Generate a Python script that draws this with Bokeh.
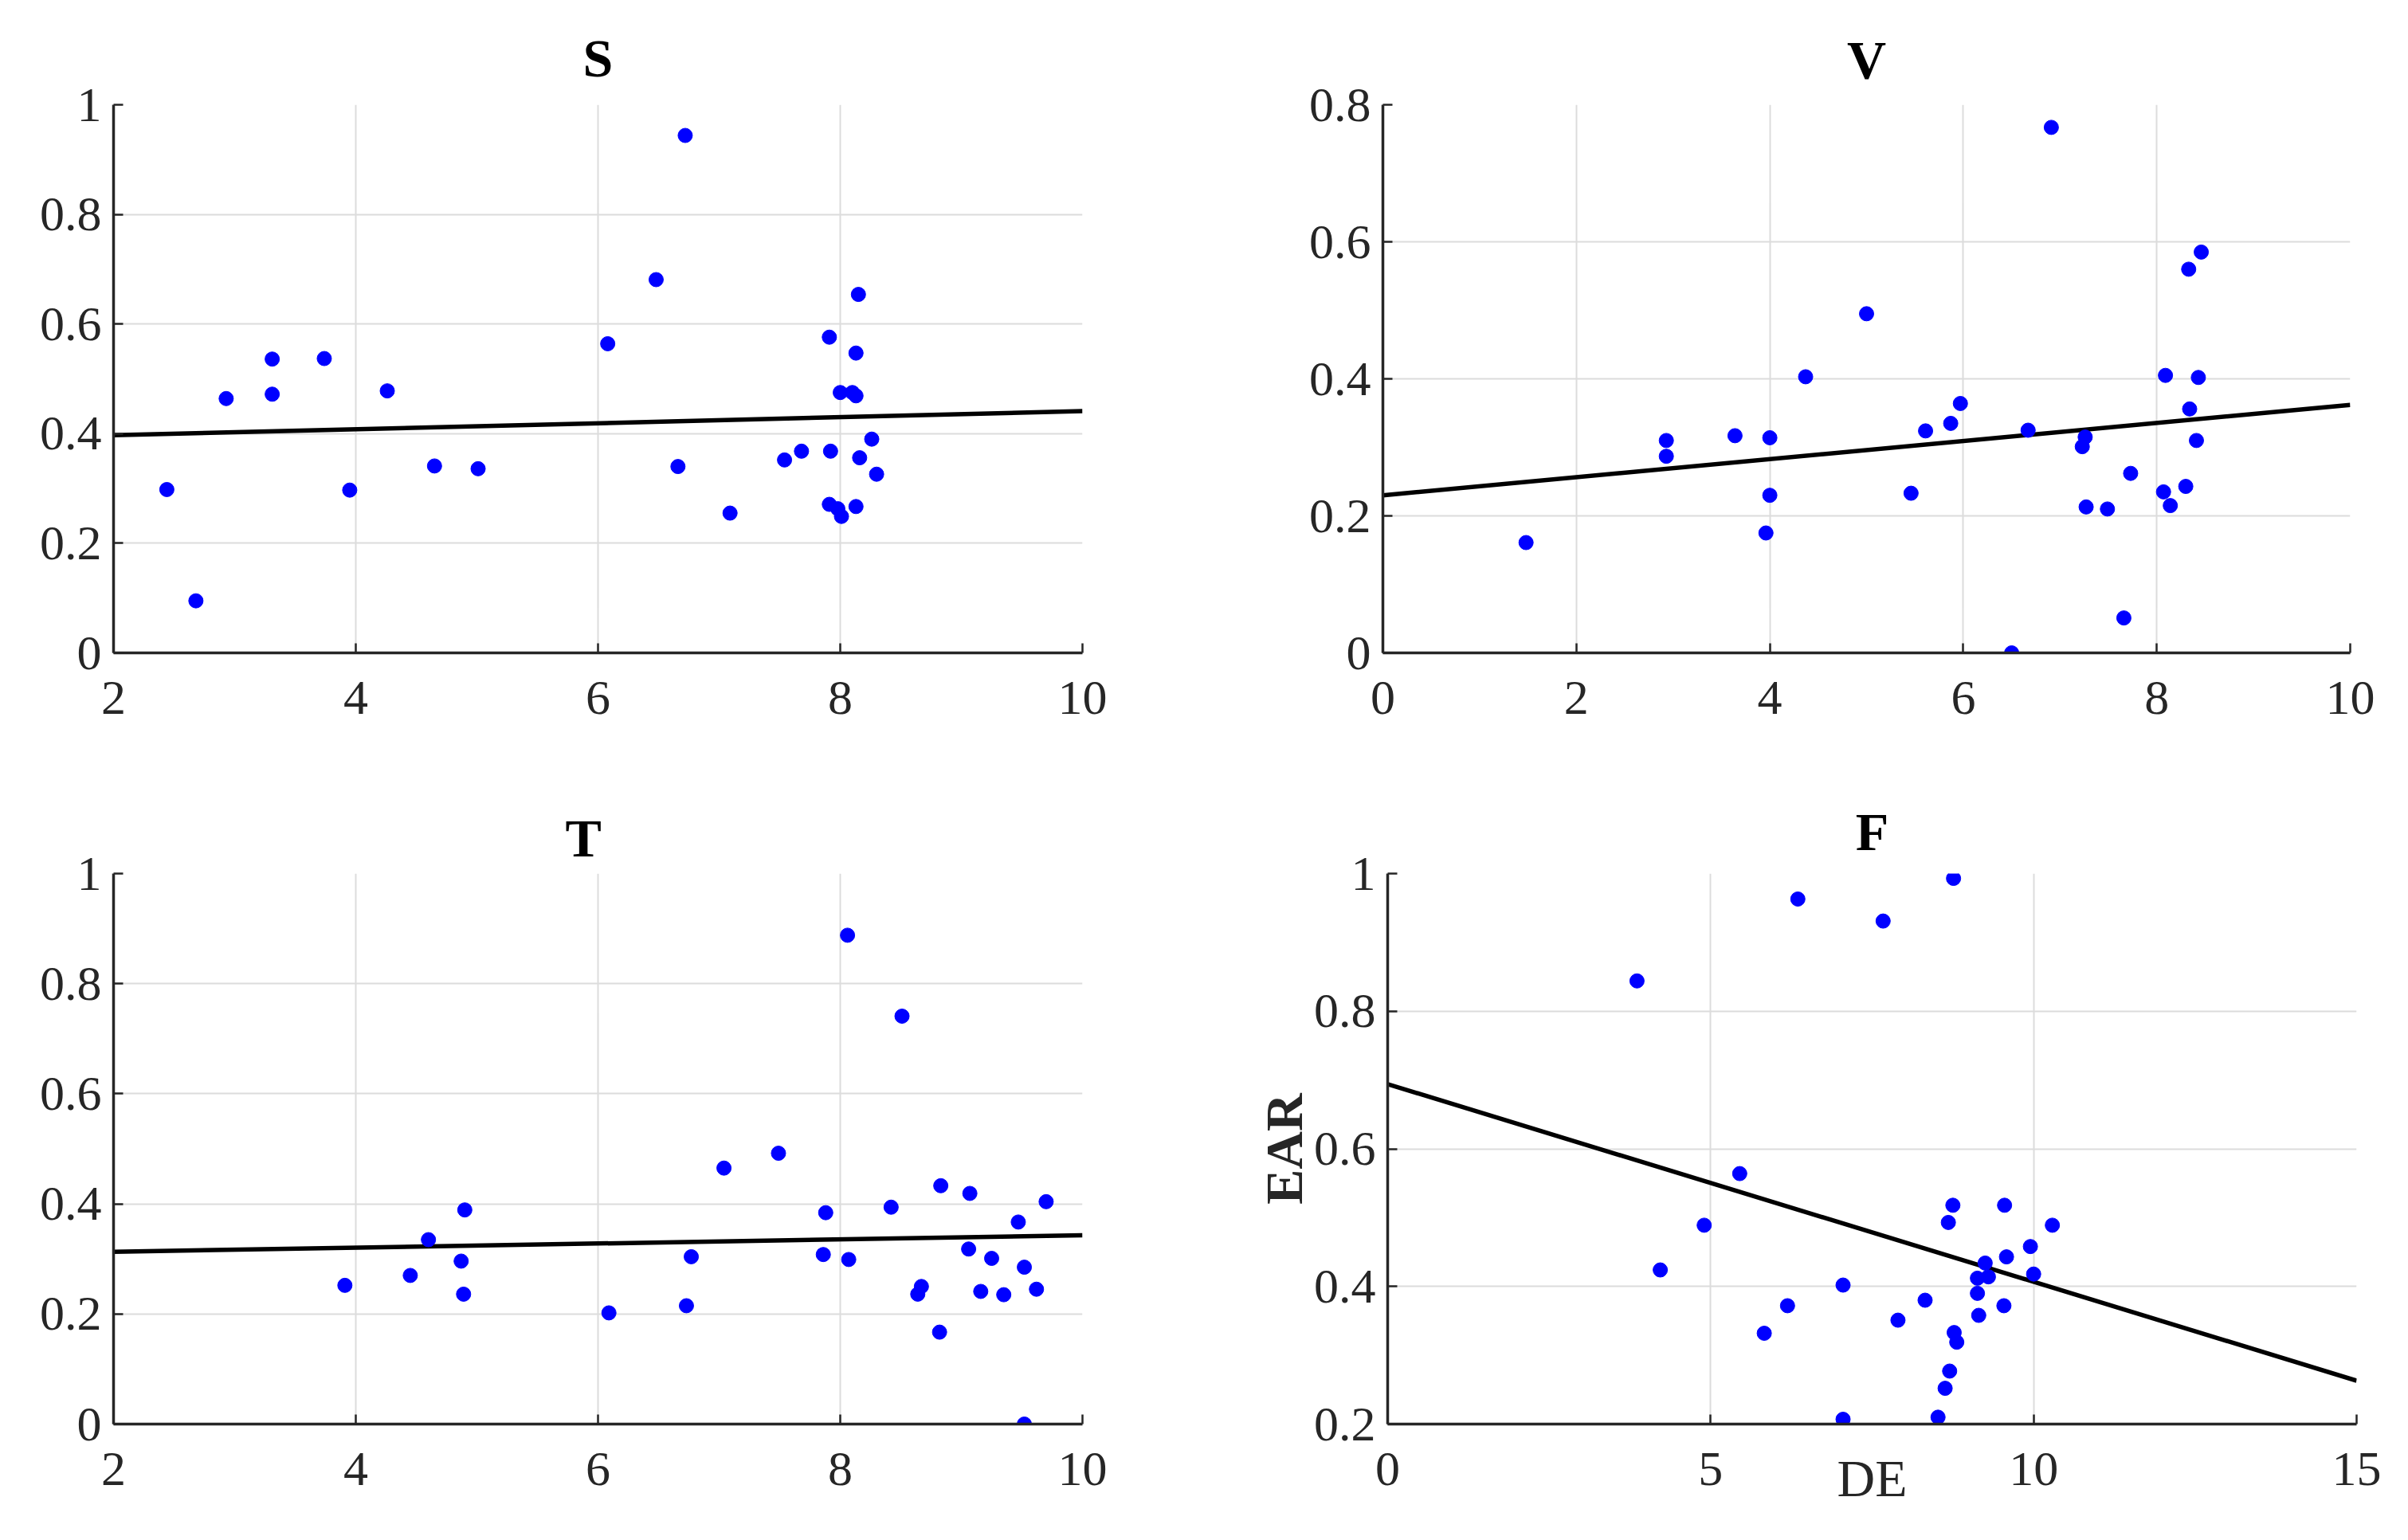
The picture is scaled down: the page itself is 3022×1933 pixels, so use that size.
from bokeh.plotting import figure
from bokeh.layouts import column, row
from bokeh.models import FixedTicker, Range1d
from bokeh.embed import file_html
from bokeh.resources import INLINE

# ---------------- data ----------------
S_x = [2.44, 2.68, 2.93, 3.31, 3.31, 3.74, 3.95, 4.26, 4.65, 5.01, 6.08, 6.48, 6.72, 6.66,
       7.09, 7.54, 7.68, 7.91, 7.92, 7.91, 7.98, 8.01, 8.00, 8.10, 8.13, 8.13, 8.15, 8.13,
       8.16, 8.26, 8.30]
S_y = [0.298, 0.095, 0.464, 0.536, 0.472, 0.537, 0.297, 0.478, 0.341, 0.336, 0.564, 0.681,
       0.944, 0.340, 0.255, 0.352, 0.368, 0.576, 0.368, 0.271, 0.263, 0.249, 0.475, 0.475,
       0.469, 0.547, 0.654, 0.267, 0.356, 0.390, 0.326]

V_x = [1.48, 2.93, 2.93, 3.64, 4.00, 4.00, 3.96, 4.37, 5.00, 5.46, 5.61, 5.87, 5.97, 6.50,
       6.67, 6.91, 7.23, 7.26, 7.27, 7.49, 7.66, 7.73, 8.07, 8.09, 8.14, 8.30, 8.33, 8.34,
       8.41, 8.43, 8.46]
V_y = [0.161, 0.310, 0.287, 0.317, 0.314, 0.230, 0.175, 0.403, 0.495, 0.233, 0.324, 0.335,
       0.364, 0.000, 0.325, 0.767, 0.301, 0.315, 0.213, 0.210, 0.051, 0.262, 0.235, 0.405,
       0.215, 0.243, 0.560, 0.356, 0.310, 0.402, 0.585]

T_x = [3.91, 4.45, 4.60, 4.87, 4.90, 4.89, 6.09, 6.73, 6.77, 7.04, 7.49, 7.86, 7.88, 8.06,
       8.07, 8.42, 8.51, 8.64, 8.67, 8.83, 8.82, 9.06, 9.07, 9.16, 9.25, 9.35, 9.47, 9.52,
       9.52, 9.62, 9.70]
T_y = [0.252, 0.270, 0.335, 0.296, 0.389, 0.236, 0.202, 0.215, 0.304, 0.465, 0.492, 0.308,
       0.384, 0.888, 0.299, 0.394, 0.741, 0.236, 0.250, 0.433, 0.167, 0.318, 0.419, 0.241,
       0.301, 0.235, 0.367, 0.285, 0.000, 0.245, 0.404]

F_x = [3.86, 4.22, 4.90, 5.45, 5.83, 6.19, 6.35, 7.05, 7.05, 7.67, 7.90, 8.32, 8.52, 8.63,
       8.70, 8.68, 8.75, 8.76, 8.77, 8.81, 9.13, 9.13, 9.15, 9.25, 9.30, 9.54, 9.55, 9.58,
       9.95, 10.00, 10.29]
F_y = [0.844, 0.424, 0.489, 0.564, 0.332, 0.372, 0.963, 0.402, 0.207, 0.931, 0.351, 0.380,
       0.210, 0.252, 0.277, 0.493, 0.518, 0.993, 0.333, 0.319, 0.390, 0.412, 0.358, 0.434,
       0.414, 0.372, 0.518, 0.443, 0.458, 0.418, 0.489]

# linear fit (intercept, slope)
S_fit = [0.386, 0.0055]
V_fit = [0.230, 0.0132]
T_fit = [0.3055, 0.00375]
F_fit = [0.694, -0.02873]

titles = ["S", "V", "T", "F"]
S_xticks = [2, 4, 6, 8, 10]
V_xticks = [0, 2, 4, 6, 8, 10]
T_xticks = [2, 4, 6, 8, 10]
F_xticks = [0, 5, 10, 15]
S_yticks = [0, 0.2, 0.4, 0.6, 0.8, 1]
V_yticks = [0, 0.2, 0.4, 0.6, 0.8]
T_yticks = [0, 0.2, 0.4, 0.6, 0.8, 1]
F_yticks = [0.2, 0.4, 0.6, 0.8, 1]
x_label = "DE"
y_label = "EAR"

FONT = "Liberation Serif"
DARK = "#262626"


def panel(title, xs, ys, fit, xticks, yticks, fw, fh, left, right, top, bottom,
          title_left=None, title_standoff=30, xlabel=None, ylabel=None):
    x0, x1 = xticks[0], xticks[-1]
    y0, y1 = yticks[0], yticks[-1]
    p = figure(width=left + fw + right, height=top + fh + bottom,
               output_backend="svg", toolbar_location=None,
               x_range=Range1d(x0, x1), y_range=Range1d(y0, y1),
               min_border_left=left, min_border_right=right,
               min_border_top=top, min_border_bottom=bottom)
    p.outline_line_color = None
    p.background_fill_color = "white"
    p.border_fill_color = "white"

    p.title.text = title
    p.title.text_font = FONT
    p.title.text_font_size = "68px"
    p.title.text_font_style = "bold"
    p.title.text_color = "black"
    if title_left is None:
        p.title.align = "center"
    else:
        p.title.align = "left"
        p.title.offset = title_left
    p.title.standoff = title_standoff

    for ax, ticks in ((p.xaxis, xticks), (p.yaxis, yticks)):
        ax.ticker = FixedTicker(ticks=ticks)
        ax.major_label_overrides = {t: f"{t:g}" for t in ticks}
        ax.minor_tick_line_color = None
        ax.major_tick_in = 12
        ax.major_tick_out = 0
        ax.major_tick_line_width = 2.5
        ax.major_tick_line_color = DARK
        ax.axis_line_color = DARK
        ax.axis_line_width = 3.5
        ax.major_label_text_font = FONT
        ax.major_label_text_font_size = "62px"
        ax.major_label_text_color = DARK
    p.xaxis.major_label_standoff = 36
    p.yaxis.major_label_standoff = 15

    for g in (p.xgrid, p.ygrid):
        g.grid_line_color = "#dcdcdc"
        g.grid_line_width = 2
    p.xgrid.ticker = FixedTicker(ticks=xticks)
    p.ygrid.ticker = FixedTicker(ticks=yticks)

    if xlabel:
        p.xaxis.axis_label = xlabel
        p.xaxis.axis_label_text_font = FONT
        p.xaxis.axis_label_text_font_size = "66px"
        p.xaxis.axis_label_text_font_style = "normal"
        p.xaxis.axis_label_text_color = DARK
        p.xaxis.axis_label_standoff = -48
    if ylabel:
        p.yaxis.axis_label = ylabel
        p.yaxis.axis_label_text_font = FONT
        p.yaxis.axis_label_text_font_size = "66px"
        p.yaxis.axis_label_text_font_style = "bold"
        p.yaxis.axis_label_text_color = DARK
        p.yaxis.axis_label_standoff = -2

    p.line([x0, x1], [fit[0] + fit[1] * x0, fit[0] + fit[1] * x1],
           line_color="black", line_width=5.5)
    p.scatter(xs, ys, size=18, fill_color="#0000ff", line_color="#0000ff")
    return p


pS = panel(titles[0], S_x, S_y, S_fit, S_xticks, S_yticks, 1216, 693, 142, 150, 131, 144,
           title_standoff=41)
pV = panel(titles[1], V_x, V_y, V_fit, V_xticks, V_yticks, 1214, 693, 227, 65, 126, 149,
           title_standoff=37)
pT = panel(titles[2], T_x, T_y, T_fit, T_xticks, T_yticks, 1216, 691, 142, 150, 128, 138,
           title_left=567, title_standoff=14)
pF = panel(titles[3], F_x, F_y, F_fit, F_xticks, F_yticks, 1216, 691, 233, 57, 128, 138,
           title_standoff=30, xlabel=x_label, ylabel=y_label)

layout = column(row(pS, pV), row(pT, pF))
open("out.html", "w").write(file_html(layout, INLINE))
